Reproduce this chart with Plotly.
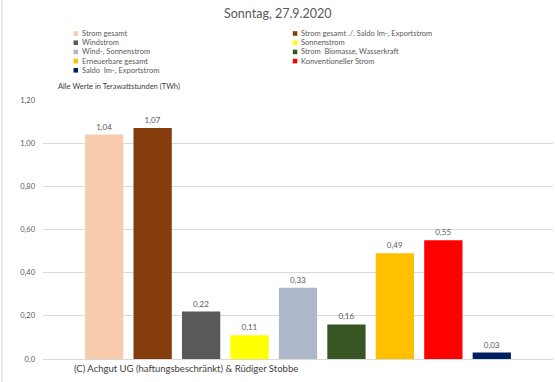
import plotly.graph_objects as go

series_names = [
    "Strom gesamt",
    "Strom gesamt ./. Saldo Im-, Exportstrom",
    "Windstrom",
    "Sonnenstrom",
    "Wind-, Sonnenstrom",
    "Strom  Biomasse, Wasserkraft",
    "Erneuerbare gesamt",
    "Konventioneller Strom",
    "Saldo  Im-, Exportstrom",
]
series_values = [1.04, 1.07, 0.22, 0.11, 0.33, 0.16, 0.49, 0.55, 0.03]
series_colors = ["#F8CBAD", "#843C0C", "#595959", "#FFFF00", "#ADB9CA",
                 "#375623", "#FFC000", "#FF0000", "#002060"]
category = ["Sonntag, 27.9.2020"]
tick_values = [0, 0.2, 0.4, 0.6, 0.8, 1.0, 1.2]
tick_labels = ["0,0", "0,20", "0,40", "0,60", "0,80", "1,00", "1,20"]

W, H = 555, 382
ML, MR, MT, MB = 43, 2, 100, 23
PW, PH = W - ML - MR, H - MT - MB
FONT = "Lato"
GRAY = "#595959"

def px(x):
    return (x - ML) / PW

def py(y):
    return (H - MB - y) / PH

fig = go.Figure()
for name, val, col in zip(series_names, series_values, series_colors):
    fig.add_trace(go.Bar(
        x=category, y=[val], name=name, marker_color=col,
        marker_line_width=0,
        texttemplate="%{y:.2f}", textposition="outside",
        textfont=dict(size=8, color=GRAY, family=FONT),
        cliponaxis=False, showlegend=False, hoverinfo="skip",
    ))

annotations = []
shapes = []
for i, (name, col) in enumerate(zip(series_names, series_colors)):
    c, r = i % 2, i // 2
    sx = [73.5, 292.8][c]
    sy = 33.5 + 9.2 * r
    shapes.append(dict(type="rect", xref="paper", yref="paper",
                       x0=px(sx), x1=px(sx + 4.5), y0=py(sy + 2.3), y1=py(sy - 2.3),
                       fillcolor=col, line_width=0))
    annotations.append(dict(text=name, xref="paper", yref="paper",
                            x=px(sx + 6), y=py(sy), xanchor="left", yanchor="middle",
                            showarrow=False, font=dict(size=7.5, color=GRAY, family=FONT)))

annotations.append(dict(text="Alle Werte in Terawattstunden (TWh)", xref="paper", yref="paper",
                        x=px(56), y=py(86.5), xanchor="left", yanchor="middle", showarrow=False,
                        font=dict(size=7.5, color="#404040", family=FONT)))
annotations.append(dict(text="(C) Achgut UG (haftungsbeschränkt) & Rüdiger Stobbe", xref="paper", yref="paper",
                        x=px(72), y=py(368), xanchor="left", yanchor="middle", showarrow=False,
                        font=dict(size=9.5, color="#404040", family=FONT)))
annotations.append(dict(text="Sonntag, 27.9.2020", xref="paper", yref="paper",
                        x=px(277.5), y=py(13.5), xanchor="center", yanchor="middle", showarrow=False,
                        font=dict(size=12.5, color=GRAY, family=FONT)))

shapes.append(dict(type="line", xref="paper", yref="paper", x0=px(2), x1=px(2),
                   y0=py(0), y1=py(382), line=dict(color="#D9D9D9", width=1)))

fig.update_layout(
    width=W, height=H,
    margin=dict(l=ML, r=MR, t=MT, b=MB),
    paper_bgcolor="white", plot_bgcolor="white",
    barmode="group", bargap=0.145, bargroupgap=0.21,
    separators=",.",
    font=dict(family=FONT, color=GRAY),
    showlegend=False,
    annotations=annotations, shapes=shapes,
    xaxis=dict(showticklabels=False, showgrid=False, zeroline=False, showline=False, fixedrange=True),
    yaxis=dict(range=[0, 1.2], tickvals=tick_values, ticktext=tick_labels,
               showgrid=True, gridcolor="#D9D9D9", gridwidth=1,
               zeroline=True, zerolinecolor="#D9D9D9", zerolinewidth=1,
               showline=False, ticks="", ticklabelstandoff=7, fixedrange=True,
               tickfont=dict(size=7.5, color=GRAY, family=FONT)),
)

fig.write_html("out.html", config={"displayModeBar": False, "staticPlot": True},
               post_script="document.body.style.margin='0';document.body.style.overflow='hidden';")
